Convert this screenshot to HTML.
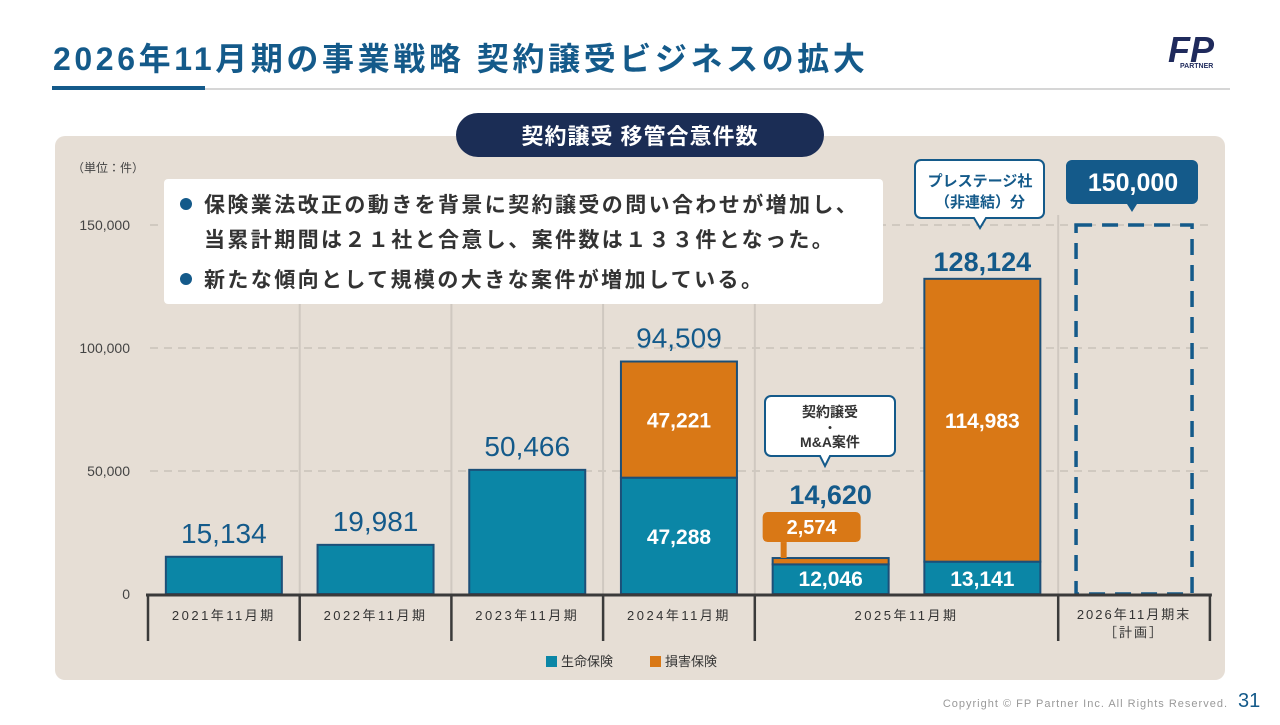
<!DOCTYPE html>
<html><head><meta charset="utf-8">
<style>
body{margin:0;width:1280px;height:720px;background:#fff;overflow:hidden;font-family:"Liberation Sans","Noto Sans CJK JP",sans-serif;}
svg text{font-family:"Liberation Sans","Noto Sans CJK JP",sans-serif;}
</style></head>
<body>
<svg id="c" width="1280" height="720" viewBox="0 0 1280 720" xmlns="http://www.w3.org/2000/svg">
<text x="53" y="70" font-size="32" font-weight="bold" fill="#145a8a" letter-spacing="3.6">2026年11月期の事業戦略  契約譲受ビジネスの拡大</text>
<rect x="52" y="88" width="1178" height="2" fill="#d6d6d6"/>
<rect x="52" y="86" width="153" height="4" fill="#145a8a"/>
<g>
<text x="1168" y="62" font-size="36" font-weight="bold" font-style="italic" fill="#1f2a5c">FP</text>
<text x="1180" y="68" font-size="7" font-weight="bold" fill="#1f2a5c">PARTNER</text>
</g>
<rect x="55" y="136" width="1170" height="544" rx="10" fill="#e6ded5"/>
<rect x="456" y="113" width="368" height="44" rx="22" fill="#1b2d55"/>
<text x="640" y="144" font-size="22" font-weight="bold" fill="#fff" text-anchor="middle" letter-spacing="1">契約譲受 移管合意件数</text>
<text x="72" y="172" font-size="12" fill="#444">（単位：件）</text>
<g id="grid"></g>
<g id="bars"></g>
<g id="axis"></g>
<rect x="164" y="179" width="719" height="125" rx="4" fill="#fff"/>
<circle cx="186" cy="204" r="6" fill="#145a8a"/>
<text x="204" y="212" font-size="21" font-weight="bold" fill="#333" letter-spacing="2.4">保険業法改正の動きを背景に契約譲受の問い合わせが増加し、</text>
<text x="204" y="247" font-size="21" font-weight="bold" fill="#333" letter-spacing="2.4">当累計期間は２１社と合意し、案件数は１３３件となった。</text>
<circle cx="186" cy="279" r="6" fill="#145a8a"/>
<text x="204" y="287" font-size="21" font-weight="bold" fill="#333" letter-spacing="2.4">新たな傾向として規模の大きな案件が増加している。</text>
<g>
<path d="M771 396 h118 a6 6 0 0 1 6 6 v48 a6 6 0 0 1 -6 6 h-59 l-5 10 l-5 -10 h-49 a6 6 0 0 1 -6 -6 v-48 a6 6 0 0 1 6 -6z" fill="#fff" stroke="#145a8a" stroke-width="2"/>
<text x="830" y="417" font-size="14" font-weight="bold" fill="#333" text-anchor="middle">契約譲受</text>
<text x="830" y="432" font-size="12" font-weight="bold" fill="#333" text-anchor="middle">・</text>
<text x="830" y="447" font-size="14" font-weight="bold" fill="#333" text-anchor="middle">M&amp;A案件</text>
</g>
<g>
<path d="M921 160 h117 a6 6 0 0 1 6 6 v46 a6 6 0 0 1 -6 6 h-52 l-6 10 l-6 -10 h-53 a6 6 0 0 1 -6 -6 v-46 a6 6 0 0 1 6 -6z" fill="#fff" stroke="#145a8a" stroke-width="2"/>
<text x="980" y="186" font-size="15" font-weight="bold" fill="#145a8a" text-anchor="middle">プレステージ社</text>
<text x="980" y="207" font-size="15" font-weight="bold" fill="#145a8a" text-anchor="middle">（非連結）分</text>
</g>
<g>
<path d="M1072 160 h120 a6 6 0 0 1 6 6 v32 a6 6 0 0 1 -6 6 h-55 l-5 8 l-5 -8 h-55 a6 6 0 0 1 -6 -6 v-32 a6 6 0 0 1 6 -6z" fill="#145a8a"/>
<text x="1133" y="191" font-size="25" font-weight="bold" fill="#fff" text-anchor="middle">150,000</text>
</g>
<g>
<rect x="546" y="656" width="11" height="11" fill="#0b86a6"/>
<text x="561" y="666" font-size="13" fill="#333">生命保険</text>
<rect x="650" y="656" width="11" height="11" fill="#d97816"/>
<text x="665" y="666" font-size="13" fill="#333">損害保険</text>
</g>
<text x="1228" y="707" font-size="11" fill="#999" text-anchor="end" letter-spacing="1">Copyright © FP Partner Inc. All Rights Reserved.</text>
<text x="1238" y="707" font-size="20" fill="#145a8a">31</text>
</svg>
<script>
const categories=["2021年11月期","2022年11月期","2023年11月期","2024年11月期","2025年11月期","2026年11月期末"];
const lifeValues=[15134,19981,50466,47288,12046,13141];
const nonlifeValues=[0,0,0,47221,2574,114983];
const totalLabels=["15,134","19,981","50,466","94,509","14,620","128,124"];
const targetValue=150000;
const yTicks=[0,50000,100000,150000];
const barSlots=[0,1,2,3,4,5];
const NS="http://www.w3.org/2000/svg";
const x0=148,slotW=151.7,y0=594,yScale=v=>y0-v*123/50000;
const slotX=i=>x0+slotW*(i+0.5);
function mk(p,tag,at){const e=document.createElementNS(NS,tag);for(const k in at)e.setAttribute(k,at[k]);p.appendChild(e);return e;}
const grid=document.getElementById('grid'),bars=document.getElementById('bars'),axis=document.getElementById('axis');
const fmt=v=>v.toLocaleString('en-US');
yTicks.forEach(t=>{const y=yScale(t);
 if(t>0){const l=mk(grid,'line',{x1:150,x2:1210,y1:y,y2:y,stroke:'#c9c2ba','stroke-width':1.5,'stroke-dasharray':'8 6'});
 
 }
 const tx=mk(grid,'text',{x:130,y:y+5,'font-size':14,fill:'#444','text-anchor':'end'});tx.textContent=fmt(t);
 
 
});
const groups=[[0,1],[1,2],[2,3],[3,4],[4,6],[6,7]];
groups.forEach((g,i)=>{const xs=x0+slotW*g[0];
 if(i>0){const v=mk(grid,'line',{x1:xs,x2:xs,y1:215,y2:y0,stroke:'#cfc8c0','stroke-width':2});
 
 }
});
groups.concat([[7,7]]).forEach(g=>{const xs=x0+slotW*g[0];
 const t=mk(axis,'line',{x1:xs,x2:xs,y1:y0,y2:641,stroke:'#3a3a3a','stroke-width':2.5});
 
 
});
const ax=mk(axis,'line',{x1:x0-2,x2:x0+slotW*7+2,y1:y0+1,y2:y0+1,stroke:'#3a3a3a','stroke-width':3});


categories.forEach((c,i)=>{const g=groups[i];const cx=x0+slotW*(g[0]+g[1])/2;
 if(i===5){
  const t=mk(axis,'text',{x:cx,y:619,'font-size':13,fill:'#333','text-anchor':'middle','letter-spacing':2});t.textContent=c;
  
  
  const t2=mk(axis,'text',{x:cx,y:637,'font-size':13,fill:'#333','text-anchor':'middle','letter-spacing':2});t2.textContent='［計画］';
  
  
 }else{
  const t=mk(axis,'text',{x:cx,y:620,'font-size':13,fill:'#333','text-anchor':'middle','letter-spacing':2.5});t.textContent=c;
  
  
 }
});
const bw=116;
lifeValues.forEach((lv,i)=>{const cx=slotX(barSlots[i]);const nl=nonlifeValues[i];
 const yl=yScale(lv),yt=yScale(lv+nl);
 const b=mk(bars,'rect',{x:cx-bw/2,y:yl,width:bw,height:y0-yl,fill:'#0b86a6',stroke:'#1c4f78','stroke-width':2});
 
 
 if(nl>0){const o=mk(bars,'rect',{x:cx-bw/2,y:yt,width:bw,height:yl-yt,fill:'#d97816',stroke:'#1c4f78','stroke-width':2});
  
  }
 const stacked=nl>0&&i!==4;
 if(stacked||i===4){
  const lt=mk(bars,'text',{x:cx,y:(yl+y0)/2+(i===4?7:8),'font-size':21,'font-weight':'bold',fill:'#fff','text-anchor':'middle'});lt.textContent=fmt(lv);
  
  
 }
 if(stacked){
  const ot=mk(bars,'text',{x:cx,y:(yt+yl)/2+8,'font-size':21,'font-weight':'bold',fill:'#fff','text-anchor':'middle'});ot.textContent=fmt(nl);
  
  
 }
 const bold=i>=4;
 const tt=mk(bars,'text',{x:cx,y:yt-(i===4?54:i===5?8:14),'font-size':bold?27:28,'font-weight':bold?'bold':'normal',fill:'#145a8a','text-anchor':'middle'});tt.textContent=totalLabels[i];
 
 
 if(i===4){
  const tag=mk(bars,'rect',{x:cx-68,y:yt-46,width:98,height:30,rx:5,fill:'#d97816'});
  
  
  mk(bars,'rect',{x:cx-50,y:yt-16,width:6,height:16,fill:'#d97816'});
  const tx=mk(bars,'text',{x:cx-19,y:yt-24,'font-size':20,'font-weight':'bold',fill:'#fff','text-anchor':'middle'});tx.textContent=fmt(nl);
  
  
 }
});
const tcx=slotX(6),ty=yScale(targetValue);
const tb=mk(bars,'rect',{x:tcx-58,y:ty,width:116,height:y0-ty,fill:'none',stroke:'#145a8a','stroke-width':3.5,'stroke-dasharray':'16 10'});


</script>
</body></html>
